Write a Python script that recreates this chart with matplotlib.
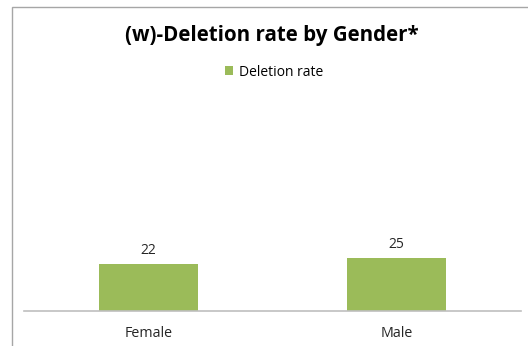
import matplotlib.pyplot as plt
from matplotlib.patches import Rectangle

categories = ["Female", "Male"]
deletion_rate = [22, 25]

W, H = 528, 346
plt.rcParams['font.family'] = ['Open Sans', 'DejaVu Sans']

fig = plt.figure(figsize=(W / 100, H / 100), dpi=100)

# chart frame (runs off the right and bottom edges)
fig.patches.append(Rectangle((12 / W, -0.1), 1.2, 1 - 7 / H + 0.1, transform=fig.transFigure,
                             fill=False, edgecolor='#a6a6a6', linewidth=1.0))

ax = fig.add_axes([24 / W, (H - 311) / H, (521 - 24) / W, (311 - 80) / H])
bars = ax.bar(range(len(categories)), deletion_rate, width=0.4, color='#9bbb59',
              label='Deletion rate')
ax.set_xlim(-0.5, 1.5)
ax.set_ylim(0, 109)
for b, v in zip(bars, deletion_rate):
    ax.text(b.get_x() + b.get_width() / 2, v + 3, str(v), ha='center', va='bottom',
            fontsize=10, color='#262626')

ax.set_xticks(range(len(categories)))
ax.set_xticklabels(categories, fontsize=10.3, color='#262626')
ax.tick_params(axis='x', length=0, pad=11)
ax.set_yticks([])
for s in ['top', 'right', 'left']:
    ax.spines[s].set_visible(False)
ax.spines['bottom'].set_color('#bfbfbf')
ax.spines['bottom'].set_linewidth(1.2)

fig.text(272 / W, 1 - 35 / H, "(w)-Deletion rate by Gender*", ha='center', va='center',
         fontsize=14.8, fontweight='bold', color='black')
fig.legend(handles=[bars], labels=['Deletion rate'], loc='center', bbox_to_anchor=(274 / W, 1 - 72 / H),
           frameon=False, fontsize=10, handlelength=0.6, handleheight=0.6, handletextpad=0.45)

fig.savefig('out.png', dpi=100)
